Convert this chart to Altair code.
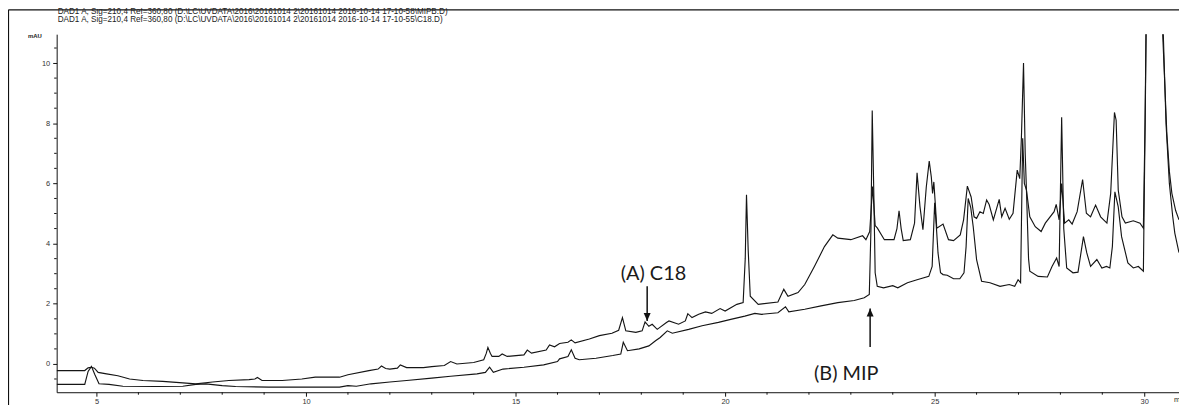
import altair as alt
import pandas as pd

# ---------------- data ----------------
C18_T = [4.05, 4.4, 4.72, 4.8, 4.88, 4.95, 5.04, 5.24, 5.51, 5.79, 6.11, 6.58, 7.06, 7.37, 7.77,
         8.16, 8.64, 8.78, 8.84, 8.95, 9.43, 9.9, 10.22, 10.8, 11.0, 11.5, 11.72, 11.8, 11.9, 12.0,
         12.18, 12.25, 12.4, 12.8, 13.0, 13.3, 13.45, 13.6, 14.0, 14.24, 14.3, 14.34, 14.4, 14.44,
         14.6, 14.68, 14.8, 15.2, 15.28, 15.38, 15.73, 15.81, 15.93, 16.05, 16.25, 16.33, 16.42,
         16.76, 17.0, 17.3, 17.46, 17.55, 17.63, 17.87, 18.02, 18.09, 18.18, 18.26, 18.38, 18.6,
         18.66, 18.89, 19.05, 19.11, 19.21, 19.37, 19.53, 19.68, 19.88, 20.0, 20.28, 20.43, 20.48,
         20.51, 20.55, 20.6, 20.79, 21.26, 21.4, 21.5, 21.74, 21.9, 22.13, 22.37, 22.57, 22.69,
         23.0, 23.28, 23.36, 23.45, 23.52, 23.58, 23.63, 23.8, 24.03, 24.1, 24.15, 24.2, 24.25,
         24.42, 24.52, 24.58, 24.65, 24.72, 24.8, 24.87, 24.92, 24.95, 24.98, 25.02, 25.05, 25.2,
         25.33, 25.45, 25.61, 25.69, 25.78, 25.87, 25.94, 26.0, 26.08, 26.16, 26.24, 26.3, 26.4,
         26.54, 26.6, 26.68, 26.78, 26.87, 26.97, 27.03, 27.07, 27.12, 27.16, 27.19, 27.27, 27.4,
         27.54, 27.64, 27.85, 27.9, 27.97, 28.03, 28.1, 28.2, 28.28, 28.4, 28.53, 28.62, 28.72,
         28.84, 28.96, 29.11, 29.2, 29.29, 29.33, 29.38, 29.47, 29.55, 29.74, 29.9, 29.98, 30.02,
         30.05, 30.1, 30.4, 30.44, 30.54, 30.6, 30.66, 30.75, 30.83]
C18_V = [-0.22, -0.22, -0.22, -0.13, -0.11, -0.14, -0.28, -0.33, -0.39, -0.5, -0.55, -0.58, -0.63,
         -0.66, -0.6, -0.55, -0.52, -0.5, -0.45, -0.55, -0.55, -0.5, -0.44, -0.44, -0.36, -0.22,
         -0.17, -0.07, -0.15, -0.17, -0.14, -0.03, -0.12, -0.12, -0.09, -0.05, 0.08, 0.0, 0.05,
         0.14, 0.35, 0.55, 0.35, 0.25, 0.25, 0.33, 0.25, 0.3, 0.46, 0.36, 0.46, 0.63, 0.57, 0.68,
         0.72, 0.8, 0.7, 0.83, 0.94, 1.02, 1.12, 1.54, 1.1, 1.05, 1.1, 1.4, 1.25, 1.32, 1.15, 1.38,
         1.43, 1.32, 1.43, 1.67, 1.54, 1.65, 1.73, 1.68, 1.84, 1.76, 1.98, 2.04, 3.5, 5.62, 3.8,
         2.25, 1.98, 2.06, 2.48, 2.25, 2.37, 2.64, 3.24, 3.9, 4.29, 4.18, 4.13, 4.26, 4.13, 4.4,
         5.9, 4.6, 4.52, 4.13, 4.13, 4.5, 5.09, 4.5, 4.1, 4.13, 4.68, 6.35, 5.22, 4.46, 5.88, 6.74,
         6.21, 5.67, 6.05, 5.22, 4.51, 4.65, 4.13, 4.1, 4.29, 4.79, 5.91, 5.55, 4.89, 4.84, 5.06,
         5.0, 5.45, 5.3, 4.79, 5.47, 4.89, 5.17, 4.81, 5.01, 6.44, 6.16, 7.53, 10.0, 7.0, 5.78,
         4.89, 4.56, 4.4, 4.68, 5.06, 5.3, 4.79, 6.0, 4.68, 4.79, 4.65, 5.06, 6.13, 5.01, 4.89,
         5.28, 4.89, 4.68, 5.67, 8.36, 8.1, 5.78, 4.89, 4.68, 4.76, 4.68, 4.51, 8.0, 12.0, 14.0,
         14.0, 11.0, 7.65, 6.4, 5.67, 5.1, 4.79]

MIP_T = [4.05, 4.4, 4.72, 4.8, 4.88, 4.96, 5.06, 5.3, 5.63, 6.42, 7.06, 7.37, 7.61, 8.0, 8.32,
         9.11, 10.22, 10.8, 11.0, 11.2, 11.55, 12.0, 12.4, 13.0, 13.45, 14.08, 14.28, 14.38, 14.47,
         14.7, 15.2, 15.67, 16.0, 16.05, 16.25, 16.33, 16.42, 16.52, 16.92, 17.32, 17.51, 17.57,
         17.67, 17.95, 18.18, 18.34, 18.45, 18.62, 18.74, 19.13, 19.45, 19.84, 20.16, 20.47, 20.71,
         20.87, 21.26, 21.44, 21.52, 21.9, 22.29, 22.69, 23.08, 23.32, 23.44, 23.48, 23.51, 23.55,
         23.58, 23.63, 23.78, 24.0, 24.12, 24.35, 24.58, 24.86, 24.94, 25.0, 25.04, 25.08, 25.14,
         25.2, 25.3, 25.45, 25.6, 25.7, 25.75, 25.8, 25.86, 25.92, 26.0, 26.12, 26.32, 26.56, 26.78,
         26.91, 26.99, 27.05, 27.1, 27.14, 27.19, 27.24, 27.27, 27.47, 27.69, 27.8, 27.91, 27.97,
         28.03, 28.08, 28.15, 28.3, 28.42, 28.55, 28.63, 28.72, 28.87, 28.99, 29.1, 29.18, 29.24,
         29.3, 29.38, 29.46, 29.61, 29.74, 29.86, 29.98, 30.03, 30.06, 30.4, 30.45, 30.52, 30.6,
         30.68, 30.73, 30.83]
MIP_V = [-0.68, -0.68, -0.68, -0.25, -0.08, -0.35, -0.66, -0.68, -0.74, -0.75, -0.74, -0.68, -0.66,
         -0.72, -0.75, -0.77, -0.77, -0.77, -0.72, -0.74, -0.66, -0.6, -0.55, -0.47, -0.41, -0.33,
         -0.28, -0.11, -0.28, -0.17, -0.11, -0.03, 0.08, 0.17, 0.25, 0.47, 0.19, 0.14, 0.19, 0.28,
         0.33, 0.72, 0.44, 0.5, 0.6, 0.77, 0.88, 1.1, 1.02, 1.15, 1.27, 1.38, 1.49, 1.59, 1.68,
         1.65, 1.7, 1.9, 1.73, 1.82, 1.93, 2.04, 2.11, 2.2, 2.31, 4.5, 8.42, 5.5, 3.03, 2.58, 2.53,
         2.6, 2.53, 2.7, 2.8, 2.91, 3.24, 5.36, 4.56, 3.69, 3.03, 2.97, 2.95, 2.83, 2.83, 3.03, 3.9,
         5.5, 5.2, 4.56, 3.47, 2.75, 2.7, 2.58, 2.64, 2.58, 2.8, 2.7, 7.5, 6.0, 5.78, 3.5, 3.08,
         2.91, 2.89, 3.24, 3.52, 3.24, 8.2, 4.5, 3.19, 3.03, 3.05, 4.23, 3.69, 3.24, 3.47, 3.19,
         3.24, 3.19, 3.9, 5.72, 5.22, 4.23, 3.36, 3.19, 3.24, 3.08, 9.0, 13.0, 13.0, 11.2, 8.0,
         6.0, 4.9, 4.35, 3.7]

HEADER_1 = r"DAD1 A, Sig=210,4 Ref=360,80 (D:\LC\UVDATA\2016\20161014 2\20161014 2016-10-14 17-10-58\MIPB.D)"
HEADER_2 = r"DAD1 A, Sig=210,4 Ref=360,80 (D:\LC\UVDATA\2016\20161014 2\20161014 2016-10-14 17-10-55\C18.D)"

ANNOT_TEXT = ["(A) C18", "(B) MIP"]
ANNOT_T = [18.29, 22.89]
ANNOT_V = [3.0, -0.33]

ARROW_T = [18.14, 23.46]
ARROW_FROM = [2.58, 0.56]
ARROW_TIP = [1.43, 1.84]

X_MAJOR = [5, 10, 15, 20, 25, 30]
Y_MAJOR = [0, 2, 4, 6, 8, 10]
X_MINOR = [6, 7, 8, 9, 11, 12, 13, 14, 16, 17, 18, 19, 21, 22, 23, 24, 26, 27, 28, 29]
Y_MINOR = [-0.5, 0.5, 1, 1.5, 2.5, 3, 3.5, 4.5, 5, 5.5, 6.5, 7, 7.5, 8.5, 9, 9.5, 10.5]

# ---------------- build ----------------
df = pd.concat([
    pd.DataFrame({"t": C18_T, "v": C18_V, "series": "C18"}),
    pd.DataFrame({"t": MIP_T, "v": MIP_V, "series": "MIP"}),
])
ann = pd.DataFrame({"t": ANNOT_T, "v": ANNOT_V, "label": ANNOT_TEXT})
arr = pd.DataFrame({"t": ARROW_T, "v": ARROW_FROM, "tip": ARROW_TIP})
xmin_df = pd.DataFrame({"t": X_MINOR})
ymin_df = pd.DataFrame({"v": Y_MINOR})
one = pd.DataFrame({"k": [0]})

W, H = 1130, 360.5
xs = alt.Scale(domain=[4.05, 30.83], nice=False, zero=False)
ys = alt.Scale(domain=[-0.94, 10.96], nice=False, zero=False)

x_axis = alt.Axis(values=X_MAJOR, grid=False, title=None, format="d", tickSize=4,
                  labelFont="Liberation Sans", labelFontSize=7.5, labelColor="#333",
                  labelPadding=1, domainColor="#111", tickColor="#111", labelFlush=False)
y_axis = alt.Axis(values=Y_MAJOR, grid=False, title=None, format="d", tickSize=4,
                  labelFont="Liberation Sans", labelFontSize=7.5, labelColor="#333",
                  labelPadding=3, domainColor="#111", tickColor="#111", labelFlush=False)


def X(field="t"):
    return alt.X(f"{field}:Q", scale=xs, axis=x_axis)


def Y(field="v"):
    return alt.Y(f"{field}:Q", scale=ys, axis=y_axis)


lines = alt.Chart(df).mark_line(color="#151515", strokeWidth=1.15, clip=True).encode(
    x=X(), y=Y(), detail="series:N", order="t:Q")

# minor ticks (positions from the scales)
x_minor = alt.Chart(xmin_df).mark_rule(color="#111", strokeWidth=1).encode(
    x=X(), y=alt.value(H), y2=alt.value(H + 2.5))
y_minor = alt.Chart(ymin_df).mark_rule(color="#111", strokeWidth=1).encode(
    y=Y(), x=alt.value(-2.5), x2=alt.value(0))

labels = alt.Chart(ann).mark_text(font="Lato", fontSize=20, color="#1a1a1a",
                                   align="center", baseline="middle").encode(
    x=X(), y=Y(), text="label:N")

shafts = alt.Chart(arr).mark_rule(color="#111", strokeWidth=1.5).encode(
    x=X(), y=Y(), y2="tip:Q")

head_down = alt.Chart(arr.iloc[[0]]).mark_point(
    shape="M -0.7 -1.6 L 0.7 -1.6 L 0 0 Z", size=100, filled=True, color="#111", opacity=1
).encode(x=X(), y=Y("tip"))

head_up = alt.Chart(arr.iloc[[1]]).mark_point(
    shape="M -0.7 1.6 L 0.7 1.6 L 0 0 Z", size=100, filled=True, color="#111", opacity=1
).encode(x=X(), y=Y("tip"))


def small_text(txt, xv, yv, size=8.2, align="left", weight="normal"):
    return alt.Chart(one).mark_text(font="Liberation Sans", fontSize=size, color="#222",
                                    align=align, baseline="middle", text=txt,
                                    fontWeight=weight).encode(x=alt.value(xv), y=alt.value(yv))


header1 = small_text(HEADER_1, 1, -22.4)
header2 = small_text(HEADER_2, 1, -14.6)
mau = small_text("mAU", -22, 2, size=6, align="center", weight="bold")
minlab = small_text("min", W - 5, H + 7.5, size=7.5)

frame_left = alt.Chart(one).mark_rule(color="#111", strokeWidth=1.2).encode(
    x=alt.value(-48.5), y=alt.value(-24.5), y2=alt.value(H + 20))
frame_top = alt.Chart(one).mark_rule(color="#111", strokeWidth=1.2).encode(
    x=alt.value(-48.5), x2=alt.value(W + 5), y=alt.value(-24.5))

chart = alt.layer(
    lines, x_minor, y_minor, frame_left, frame_top, header1, header2, mau, minlab,
    shafts, head_down, head_up, labels
).properties(
    width=W, height=H,
    autosize=alt.AutoSizeParams(type="none"),
    padding={"left": 49, "top": 25, "right": 0, "bottom": 12},
    background="white",
).configure_view(stroke=None)

chart.save("out.html", embed_options={"renderer": "svg", "actions": False})
